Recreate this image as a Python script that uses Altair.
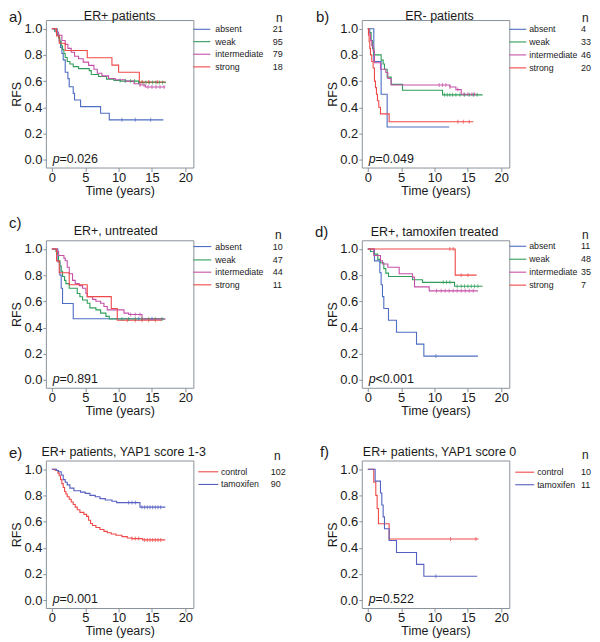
import altair as alt
import pandas as pd
import numpy as np

FONT = "Liberation Sans"
GRAY = "#8a939b"
TXT = "#1a1a1a"

# ---------------- colours / groups ----------------
GROUPS4 = ["absent", "weak", "intermediate", "strong"]
COLORS4 = ["#4e6ec4", "#2f9e5a", "#c650a8", "#f04848"]
GROUPS2 = ["control", "tamoxifen"]
COLORS2 = ["#f04848", "#5560c0"]
ALL_GROUPS = GROUPS4 + GROUPS2
ALL_COLORS = COLORS4 + COLORS2

# ---------------- panel a: ER+ patients ----------------
a_n = [21, 95, 79, 18]
a_absent_t = [0, 0.8, 1.1, 1.3, 1.5, 1.7, 2.0, 2.4, 2.6, 3.2, 3.4, 4.3, 7.3, 8.6, 16.7]
a_absent_s = [1.0, 0.952, 0.905, 0.857, 0.810, 0.762, 0.667, 0.619, 0.557, 0.506, 0.455, 0.405, 0.354, 0.304, 0.304]
a_weak_t = [0, 0.4, 0.7, 1.0, 1.2, 1.4, 1.6, 1.8, 2.0, 2.3, 2.7, 3.2, 4.0, 5.6, 5.9, 7.0, 8.2, 9.3, 10.3, 13.0, 17.1]
a_weak_s = [1.0, 0.98, 0.96, 0.93, 0.90, 0.87, 0.84, 0.81, 0.78, 0.75, 0.73, 0.71, 0.695, 0.68, 0.65, 0.635, 0.615, 0.605, 0.60, 0.59, 0.59]
a_inter_t = [0, 0.6, 1.0, 1.5, 2.0, 2.4, 2.9, 3.4, 4.0, 4.7, 5.5, 6.3, 6.8, 7.5, 8.5, 9.5, 11.0, 12.3, 13.2, 14.0, 17.0]
a_inter_s = [1.0, 0.975, 0.95, 0.91, 0.88, 0.85, 0.82, 0.79, 0.77, 0.745, 0.72, 0.69, 0.66, 0.64, 0.62, 0.61, 0.60, 0.58, 0.57, 0.555, 0.555]
a_strong_t = [0, 0.7, 1.1, 2.0, 5.3, 9.0, 10.0, 13.1, 17.0]
a_strong_s = [1.0, 0.944, 0.889, 0.833, 0.778, 0.722, 0.667, 0.593, 0.593]
a_cens = [[10.5, 12.5, 14.8],
          [10.2, 11.0, 11.8, 12.4, 13.0, 13.6, 14.1, 14.6, 15.1, 15.6, 16.1, 16.6],
          [13.2, 13.8, 14.4, 15.0, 15.6, 16.2, 16.8],
          [13.5, 14.5, 15.8]]

# ---------------- panel b: ER- patients ----------------
b_n = [4, 33, 46, 20]
b_absent_t = [0, 0.9, 2.0, 2.9, 12.2]
b_absent_s = [1.0, 0.75, 0.5, 0.25, 0.25]
b_weak_t = [0, 0.3, 0.5, 0.7, 0.9, 2.0, 2.3, 2.5, 2.9, 3.5, 5.2, 11.2, 17.2]
b_weak_s = [1.0, 0.97, 0.91, 0.85, 0.80, 0.76, 0.73, 0.69, 0.63, 0.575, 0.53, 0.495, 0.495]
b_inter_t = [0, 0.2, 0.4, 0.6, 0.8, 1.0, 1.9, 2.7, 3.0, 3.5, 12.3, 13.2, 14.0, 16.3]
b_inter_s = [1.0, 0.96, 0.91, 0.87, 0.83, 0.74, 0.69, 0.665, 0.62, 0.57, 0.555, 0.535, 0.50, 0.50]
b_strong_t = [0, 0.1, 0.2, 0.3, 0.4, 0.6, 0.8, 1.0, 1.15, 1.3, 1.45, 1.65, 1.9, 3.2, 15.8]
b_strong_s = [1.0, 0.95, 0.90, 0.85, 0.80, 0.75, 0.70, 0.60, 0.55, 0.50, 0.45, 0.40, 0.35, 0.29, 0.29]
b_cens = [[],
          [11.5, 11.9, 12.3, 12.7, 13.2, 13.8, 14.5, 15.2, 15.8, 16.4],
          [10.7, 11.2, 11.7, 12.3, 13.5, 14.4, 15.0, 15.6, 16.0],
          [13.5, 14.3, 15.2]]

# ---------------- panel c: ER+, untreated ----------------
c_n = [10, 47, 44, 11]
c_absent_t = [0, 0.9, 1.2, 1.4, 1.6, 3.2, 16.8]
c_absent_s = [1.0, 0.9, 0.8, 0.7, 0.583, 0.467, 0.467]
c_weak_t = [0, 0.6, 0.8, 1.0, 1.2, 1.4, 1.6, 1.9, 2.1, 2.6, 3.8, 4.2, 4.6, 5.3, 5.7, 6.6, 7.3, 8.1, 8.6, 17.0]
c_weak_s = [1.0, 0.98, 0.96, 0.91, 0.87, 0.83, 0.79, 0.76, 0.735, 0.70, 0.66, 0.635, 0.61, 0.585, 0.55, 0.535, 0.51, 0.485, 0.465, 0.465]
c_inter_t = [0, 0.8, 1.0, 1.8, 2.0, 2.3, 2.6, 3.1, 3.5, 4.1, 4.6, 5.1, 5.3, 6.1, 6.6, 7.3, 7.8, 8.3, 10.8, 11.5, 13.5, 17.0]
c_inter_s = [1.0, 0.98, 0.95, 0.93, 0.91, 0.86, 0.81, 0.76, 0.735, 0.72, 0.70, 0.66, 0.635, 0.615, 0.60, 0.585, 0.56, 0.535, 0.51, 0.50, 0.465, 0.465]
c_strong_t = [0, 0.7, 1.1, 2.6, 5.3, 8.9, 9.8, 16.5]
c_strong_s = [1.0, 0.909, 0.818, 0.727, 0.636, 0.545, 0.455, 0.455]
c_cens = [[13.0, 15.0],
          [10.5, 11.5, 12.5, 13.5, 14.5, 15.5, 16.5],
          [11.8, 12.5, 13.2],
          [11.3, 12.5, 13.5, 14.5, 15.5]]

# ---------------- panel d: ER+, tamoxifen treated ----------------
d_n = [11, 48, 35, 7]
d_absent_t = [0, 1.0, 1.8, 2.0, 2.2, 2.4, 3.1, 4.3, 7.3, 8.4, 16.5]
d_absent_s = [1.0, 0.909, 0.818, 0.727, 0.636, 0.545, 0.455, 0.364, 0.273, 0.182, 0.182]
d_weak_t = [0, 0.4, 0.9, 1.5, 1.9, 2.4, 2.7, 3.1, 6.7, 8.2, 13.0, 17.2]
d_weak_s = [1.0, 0.98, 0.96, 0.92, 0.895, 0.85, 0.815, 0.79, 0.765, 0.745, 0.715, 0.715]
d_inter_t = [0, 0.9, 1.9, 2.2, 3.0, 4.7, 6.7, 7.0, 9.2, 16.5]
d_inter_s = [1.0, 0.95, 0.91, 0.885, 0.86, 0.81, 0.785, 0.71, 0.68, 0.68]
d_strong_t = [0, 13.1, 16.3]
d_strong_s = [1.0, 0.8, 0.8]
d_cens = [[10.2],
          [11.3, 11.8, 12.3, 13.4, 14.0, 14.5, 15.0, 15.5, 16.0, 16.5],
          [10.3, 11.0, 11.6, 12.2, 12.8, 13.4, 14.0, 14.6, 15.2, 15.8],
          [12.3, 12.8, 14.0, 15.0]]

# ---------------- panel e: ER+ patients, YAP1 score 1-3 ----------------
e_n = [102, 90]
e_control_t = [0, 0.5, 0.9, 1.1, 1.3, 1.5, 1.7, 1.9, 2.1, 2.3, 2.6, 2.9, 3.2, 3.5, 3.8, 4.2, 4.8, 5.2, 5.5,
               5.8, 6.1, 6.6, 7.2, 7.8, 8.3, 8.9, 9.6, 10.5, 11.3, 12.0, 13.6, 17.0]
e_control_s = [1.0, 0.99, 0.97, 0.95, 0.92, 0.89, 0.86, 0.83, 0.81, 0.79, 0.77, 0.75, 0.73, 0.71, 0.69, 0.67,
               0.655, 0.64, 0.61, 0.585, 0.57, 0.555, 0.54, 0.525, 0.515, 0.505, 0.495, 0.485, 0.475, 0.47, 0.46, 0.46]
e_tam_t = [0, 0.7, 1.0, 1.4, 1.7, 2.0, 2.3, 2.7, 3.3, 4.3, 5.0, 5.7, 6.5, 7.2, 8.0, 9.0, 9.7, 13.2, 17.0]
e_tam_s = [1.0, 0.99, 0.98, 0.955, 0.92, 0.90, 0.88, 0.855, 0.835, 0.825, 0.815, 0.80, 0.79, 0.775, 0.765,
           0.755, 0.745, 0.71, 0.71]
e_cens = [[12.0, 12.5, 13.0, 13.9, 14.3, 14.7, 15.1, 15.5, 15.9, 16.3],
          [11.5, 12.0, 12.5, 13.5, 13.9, 14.3, 14.7, 15.1, 15.5, 15.9, 16.3]]

# ---------------- panel f: ER+ patients, YAP1 score 0 ----------------
f_n = [10, 11]
f_control_t = [0, 0.9, 1.2, 1.4, 1.6, 3.2, 16.6]
f_control_s = [1.0, 0.9, 0.8, 0.7, 0.583, 0.467, 0.467]
f_tam_t = [0, 1.1, 1.9, 2.1, 2.3, 2.5, 3.2, 4.3, 7.3, 8.4, 16.4]
f_tam_s = [1.0, 0.909, 0.818, 0.727, 0.636, 0.545, 0.455, 0.364, 0.273, 0.182, 0.182]
f_cens = [[12.4, 16.2], [10.2]]

# ---------------- axes / scales ----------------
W, H = 148, 148
XDOM = [-0.9, 21.2]
YDOM = [-0.06, 1.066]
xscale = alt.Scale(domain=XDOM, nice=False, zero=False)
yscale = alt.Scale(domain=YDOM, nice=False, zero=False)
xaxis = alt.Axis(values=[0, 5, 10, 15, 20], format="d", title="Time (years)", grid=False, domain=False,
                 tickSize=4, labelPadding=0, titlePadding=0, labelFlush=False, labelOverlap=False)
yaxis = alt.Axis(values=[0, 0.2, 0.4, 0.6, 0.8, 1.0], format=".1f", title="RFS", grid=False, domain=False,
                 tickSize=3, labelPadding=1, titlePadding=0, labelFlush=False, labelOverlap=False)
color = alt.Color("group:N", scale=alt.Scale(domain=ALL_GROUPS, range=ALL_COLORS), legend=None)


def step_at(t, s, c):
    i = int(np.searchsorted(np.asarray(t), c, side="right")) - 1
    return s[max(i, 0)]


def panel(letter, lpos, title, tpos, pop, pval, groups, ns, curves, cens, leg):
    rows = []
    crow = []
    for g, (t, s), cc in zip(groups, curves, cens):
        for i, (tt, ss) in enumerate(zip(t, s)):
            rows.append({"group": g, "t": tt, "s": ss, "idx": i})
        for c in cc:
            crow.append({"group": g, "t": c, "s": step_at(t, s, c)})
    df = pd.DataFrame(rows)
    dfc = pd.DataFrame(crow, columns=["group", "t", "s"])

    layers = []
    layers.append(alt.Chart(df).mark_line(interpolate="step-after", strokeWidth=1.1).encode(
        x=alt.X("t:Q", scale=xscale, axis=xaxis),
        y=alt.Y("s:Q", scale=yscale, axis=yaxis),
        color=color, order="idx:Q", detail="group:N"))
    if len(dfc):
        layers.append(alt.Chart(dfc).mark_tick(orient="vertical", size=4, thickness=1).encode(
            x=alt.X("t:Q", scale=xscale, axis=xaxis),
            y=alt.Y("s:Q", scale=yscale, axis=yaxis),
            color=color))

    # legend
    for g, n, yy in zip(groups, ns, leg["ys"]):
        d1 = pd.DataFrame({"group": [g], "n": [n]})
        layers.append(alt.Chart(d1).mark_rule(strokeWidth=1.1).encode(
            x=alt.value(leg["x1"]), x2=alt.value(leg["x2"]), y=alt.value(yy), color=color))
        layers.append(alt.Chart(d1).mark_text(align="left", baseline="middle", fontSize=8.8, font=FONT,
                                              color=TXT).encode(
            x=alt.value(leg["xl"]), y=alt.value(yy), text="group:N"))
        layers.append(alt.Chart(d1).mark_text(align="left", baseline="middle", fontSize=9, font=FONT,
                                              color=TXT).encode(
            x=alt.value(leg["xn"]), y=alt.value(yy), text="n:Q"))
    dn = pd.DataFrame({"h": ["n"]})
    layers.append(alt.Chart(dn).mark_text(align="left", baseline="middle", fontSize=12, font=FONT,
                                          color=TXT).encode(
        x=alt.value(leg["hx"]), y=alt.value(leg["hy"]), text="h:N"))

    dt = pd.DataFrame({"title": [title], "letter": [letter], "p": ["p"], "pv": [pop + pval]})
    layers.append(alt.Chart(dt).mark_text(align="center", baseline="middle", fontSize=12.5, font=FONT,
                                          color=TXT).encode(
        x=alt.value(tpos[0]), y=alt.value(tpos[1]), text="title:N"))
    layers.append(alt.Chart(dt).mark_text(align="left", baseline="middle", fontSize=15, font=FONT,
                                          color=TXT).encode(
        x=alt.value(lpos[0]), y=alt.value(lpos[1]), text="letter:N"))
    layers.append(alt.Chart(dt).mark_text(align="left", baseline="middle", fontSize=12.5, font=FONT,
                                          fontStyle="italic", color=TXT).encode(
        x=alt.value(7), y=alt.value(139), text="p:N"))
    layers.append(alt.Chart(dt).mark_text(align="left", baseline="middle", fontSize=12.5, font=FONT,
                                          color=TXT).encode(
        x=alt.value(13.7), y=alt.value(139), text="pv:N"))
    return alt.layer(*layers).properties(width=W, height=H)


pa = panel("a)", (-37, -3), "ER+ patients", (74, -4.5), "=", "0.026", GROUPS4, a_n,
           [(a_absent_t, a_absent_s), (a_weak_t, a_weak_s), (a_inter_t, a_inter_s), (a_strong_t, a_strong_s)],
           a_cens, dict(x1=148, x2=165, xl=170, xn=227.7, ys=[9.3, 21.7, 34.3, 47], hx=231, hy=-2.5))
pb = panel("b)", (-46, -3), "ER- patients", (78, -4.5), "=", "0.049", GROUPS4, b_n,
           [(b_absent_t, b_absent_s), (b_weak_t, b_weak_s), (b_inter_t, b_inter_s), (b_strong_t, b_strong_s)],
           b_cens, dict(x1=148, x2=165, xl=168, xn=220, ys=[9.3, 22, 35, 48], hx=221, hy=-2.5))
pc = panel("c)", (-37, -17), "ER+, untreated", (70, -9), "=", "0.891", GROUPS4, c_n,
           [(c_absent_t, c_absent_s), (c_weak_t, c_weak_s), (c_inter_t, c_inter_s), (c_strong_t, c_strong_s)],
           c_cens, dict(x1=148, x2=166, xl=170, xn=227.7, ys=[6.3, 19.7, 32, 44.7], hx=230, hy=-5))
pd_ = panel("d)", (-47, -8), "ER+, tamoxifen treated", (73, -8), "<", "0.001", GROUPS4, d_n,
            [(d_absent_t, d_absent_s), (d_weak_t, d_weak_s), (d_inter_t, d_inter_s), (d_strong_t, d_strong_s)],
            d_cens, dict(x1=148, x2=165, xl=168, xn=220, ys=[6, 19, 32, 45], hx=221, hy=-5))
pe = panel("e)", (-37, -8), "ER+ patients, YAP1 score 1-3", (78, -8.7), "=", "0.001", GROUPS2, e_n,
           [(e_control_t, e_control_s), (e_tam_t, e_tam_s)],
           e_cens, dict(x1=153, x2=173, xl=175.7, xn=225.7, ys=[11.3, 24], hx=229, hy=-4.3))
pf = panel("f)", (-42, -9), "ER+ patients, YAP1 score 0", (78, -8.7), "=", "0.522", GROUPS2, f_n,
           [(f_control_t, f_control_s), (f_tam_t, f_tam_s)],
           f_cens, dict(x1=154, x2=173, xl=176, xn=220, ys=[11.7, 24.3], hx=221, hy=-5.3))

chart = alt.ConcatChart(
    concat=[pa, pb, pc, pd_, pe, pf], columns=2,
    spacing={"row": 73, "column": 169}, bounds="flush",
).properties(
    padding={"left": 0, "top": 0, "right": 0, "bottom": 0},
    autosize=alt.AutoSizeParams(type="pad", contains="padding"),
).configure_view(
    stroke=GRAY, strokeWidth=1
).configure_axis(
    labelFont=FONT, titleFont=FONT, labelFontSize=13, titleFontSize=12.5, labelColor=TXT, titleColor=TXT,
    tickColor=GRAY, titleFontWeight="normal"
)

chart.save("out.html", embed_options={"renderer": "svg", "actions": False})
